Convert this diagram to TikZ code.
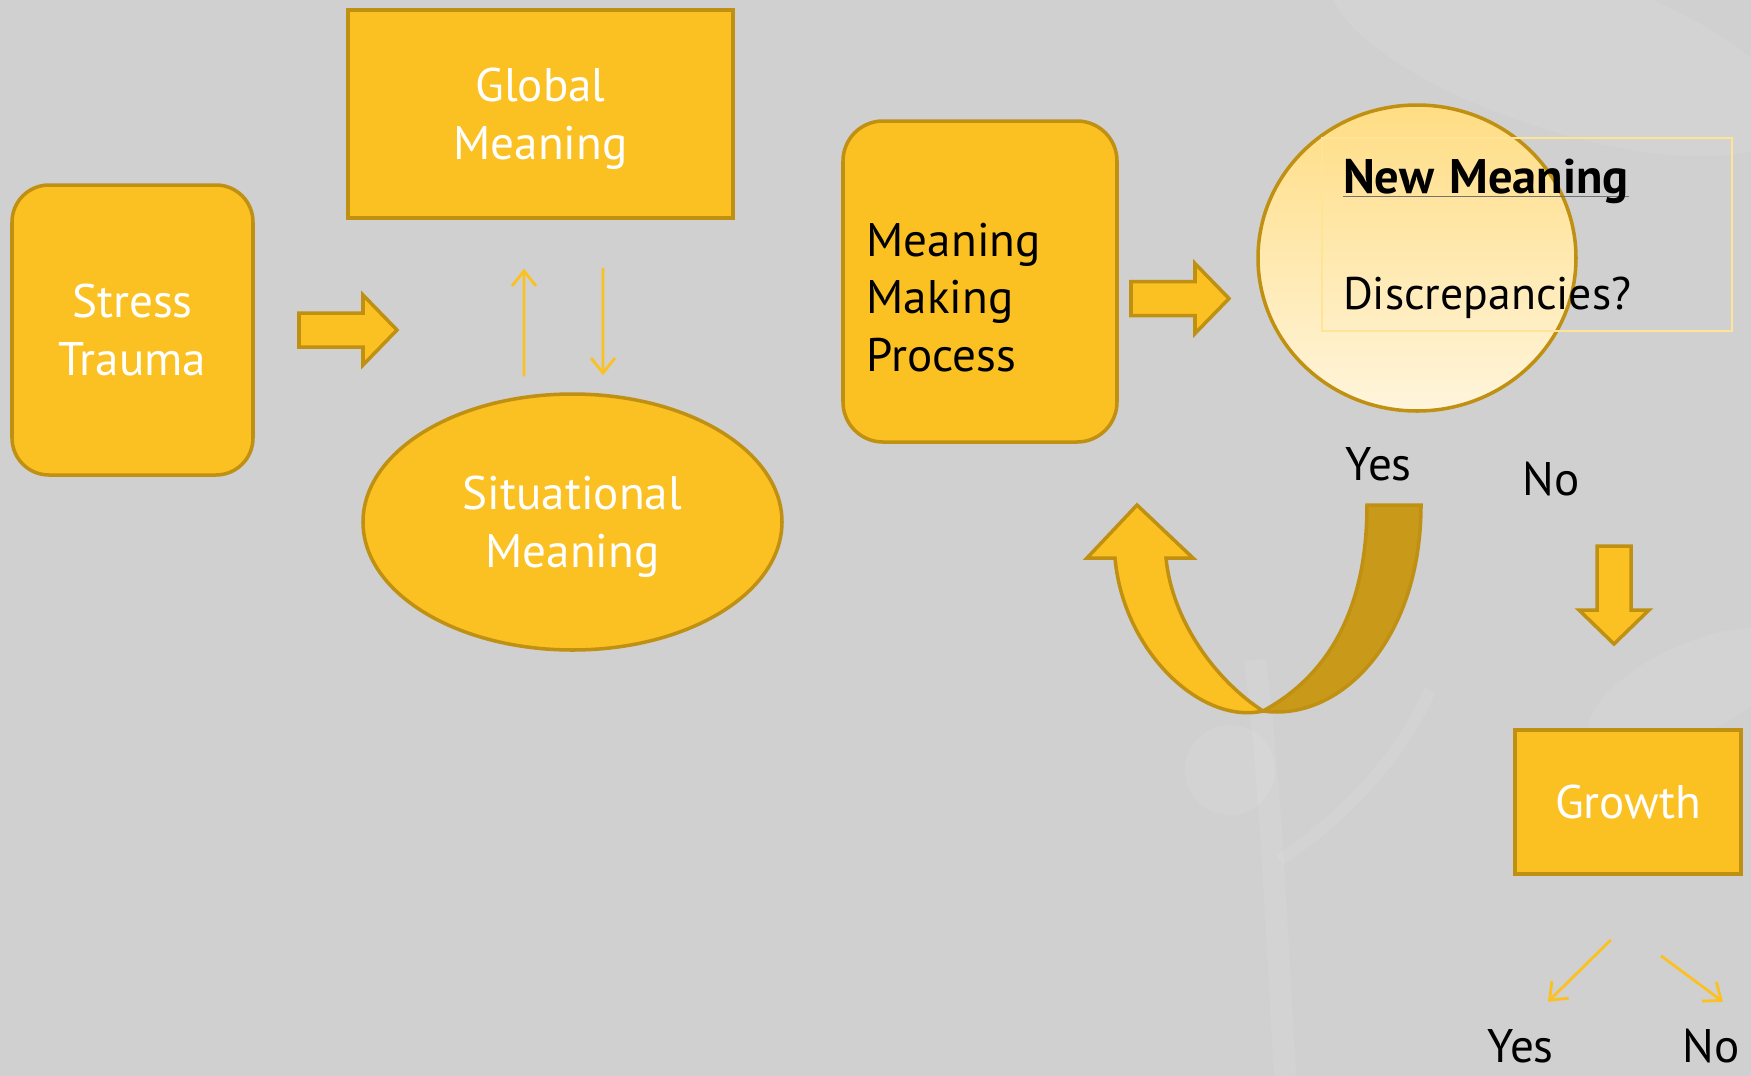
\documentclass[tikz,border=0pt]{standalone}
\usepackage{fontspec}
\setmainfont{PT Sans}
\usetikzlibrary{arrows.meta}
\usetikzlibrary{shapes.geometric}

\definecolor{canvas}{RGB}{208,208,208}
\definecolor{gold}{RGB}{251,192,34}
\definecolor{goldedge}{RGB}{191,144,18}
\definecolor{golddark}{RGB}{201,154,26}
\definecolor{paleedge}{RGB}{255,228,150}
\definecolor{bubbletop}{RGB}{255,221,132}
\definecolor{bubblebottom}{RGB}{255,245,220}

\newcommand{\bodyfont}{\fontsize{13.4}{16.4}\selectfont}
% thin grey rule just under the baseline
\newcommand{\baseuline}[1]{\setbox0\hbox{#1}\rlap{\textcolor{black!55}{\rule[-1.1pt]{\wd0}{0.5pt}}}\box0}

\begin{document}
\begin{tikzpicture}[
    box/.style={draw=goldedge, line width=1pt, fill=gold, text=white, align=center, font=\bodyfont, inner sep=0pt, text depth=0pt},
    roundbox/.style={box, rounded corners=0.37cm},
    ovalbox/.style={box, ellipse},
    fatarrow/.style={draw=goldedge, line width=1pt, fill=gold, line join=miter},
    thinarrow/.style={gold, line width=0.8pt, -{Straight Barb[length=1.5mm,width=2.4mm]}},
    answer/.style={font=\bodyfont, anchor=base west, inner sep=0pt},
    plant/.style={white, opacity=0.07},
    bigarrow/.pic={\draw[fatarrow] (0,0.17) -- (0.64,0.17) -- (0.64,0.35) -- (0.98,0) -- (0.64,-0.35) -- (0.64,-0.17) -- (0,-0.17) -- cycle;}
  ]
  \fill[canvas] (0,0) rectangle (17.51,-10.76);
  \useasboundingbox (0,0) rectangle (17.51,-10.76);

  % faint plant behind everything
  \draw[plant, line width=0.22cm] (12.85,-10.76) .. controls (12.75,-9.0) and (12.70,-7.8) .. (12.55,-6.6);
  \draw[plant, line width=0.12cm] (12.80,-8.6) .. controls (13.4,-8.2) and (14.0,-7.6) .. (14.3,-6.9);
  \fill[plant, rotate around={-18:(15.6,-0.5)}] (15.6,-0.5) ellipse (2.4 and 0.8);
  \fill[plant, rotate around={25:(16.9,-6.9)}] (16.9,-6.9) ellipse (1.1 and 0.45);
  \fill[plant] (12.3,-7.7) circle (0.45);

  % left half: the event against the two kinds of meaning
  \node[roundbox, minimum width=2.41cm, minimum height=2.90cm] at (1.325,-3.30) (stress) {Stress\\Trauma};
  \node[box, minimum width=3.85cm, minimum height=2.08cm] at (5.405,-1.14) (global) {Global\\Meaning};
  \node[ovalbox, minimum width=4.19cm, minimum height=2.56cm] at (5.725,-5.22) (situational) {Situational\\Meaning};
  \pic at (2.99,-3.30) {bigarrow};
  \draw[thinarrow] ([xshift=-4.85mm,yshift=1.6mm]situational.north) -- ([xshift=-1.65mm,yshift=-4.9mm]global.south);
  \draw[thinarrow] ([xshift=6.25mm,yshift=-4.8mm]global.south) -- ([xshift=3.05mm,yshift=1.7mm]situational.north);

  % right half
  \node[roundbox, minimum width=2.74cm, minimum height=3.21cm, rounded corners=0.40cm] at (9.80,-2.815) (mmp) {};
  \node[answer, anchor=north west, align=left] at (8.66,-2.22) (mmptext) {Meaning\\Making\\Process};
  \pic at (11.31,-2.985) {bigarrow};

  \node[ellipse, draw=goldedge, line width=1pt, top color=bubbletop, bottom color=bubblebottom,
        minimum width=3.18cm, minimum height=3.06cm, inner sep=0pt] at (14.17,-2.58) (check) {};
  \node[draw=paleedge, line width=0.6pt, minimum width=4.10cm, minimum height=1.93cm, text width=3.68cm,
        inner xsep=0.21cm, align=left, font=\fontsize{13}{16.5}\selectfont] at (15.27,-2.345) (question)
        {\rule{0pt}{0.43cm}\baseuline{\fontsize{13.8}{16.5}\selectfont\bfseries New Meaning}\\[0.58cm]Discrepancies?};

  \node[answer] at (13.45,-4.80) (yes1) {Yes};
  \node[answer] at (15.22,-4.95) (no1) {No};

  % loop back: twisted ribbon, dark side first
  \draw[fatarrow, fill=golddark] (13.67,-5.05) -- (14.21,-5.05)
    .. controls (14.21,-6.40) and (13.40,-7.22) .. (12.63,-7.11)
    .. controls (13.20,-6.80) and (13.67,-6.20) .. cycle;
  \draw[fatarrow] (11.15,-5.58) .. controls (11.23,-6.50) and (12.00,-7.25) .. (12.63,-7.11)
    .. controls (12.15,-6.80) and (11.72,-6.20) .. (11.66,-5.58)
    -- (11.93,-5.58) -- (11.37,-5.05) -- (10.87,-5.58) -- cycle;

  \pic[rotate=-90] at (16.14,-5.46) {bigarrow};
  \node[box, minimum width=2.26cm, minimum height=1.44cm] at (16.28,-8.02) (growth) {Growth};

  \draw[thinarrow] ([xshift=-1.7mm,yshift=-6.4mm]growth.south) -- ++(-0.63,-0.62);
  \draw[thinarrow] ([xshift=3.3mm,yshift=-8.0mm]growth.south) -- ++(0.62,-0.46);
  \node[answer] at (14.87,-10.62) (yes2) {Yes};
  \node[answer] at (16.82,-10.62) (no2) {No};
\end{tikzpicture}
\end{document}
